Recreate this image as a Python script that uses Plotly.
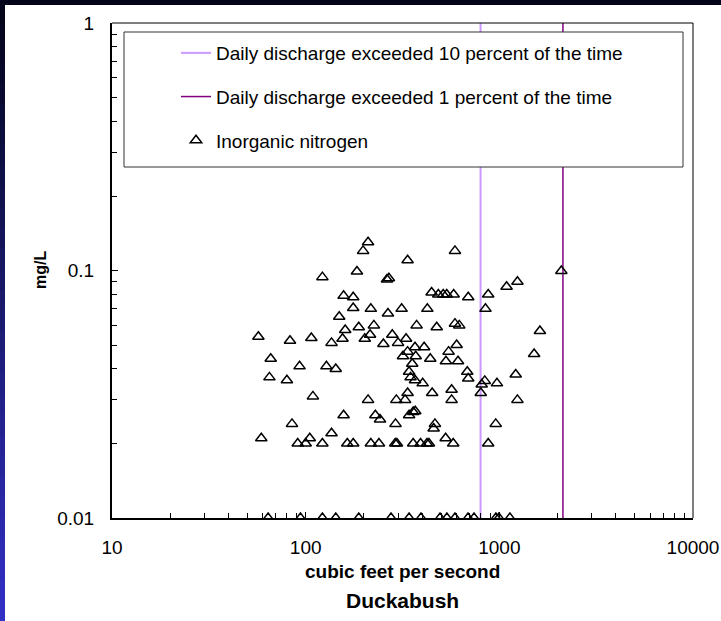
import plotly.graph_objects as go

# ---- data ----
flow_cfs = [210, 198, 122, 184, 263, 269, 157, 176, 176, 217, 266, 149, 160, 188, 225,
            57, 83, 107, 136, 155, 202, 215, 252, 280, 300, 66, 93, 128, 143, 65, 80, 109,
            210, 294, 157, 229, 242, 291, 85, 136, 59, 91, 100, 105, 122, 164, 176, 217,
            239, 290, 296,
            590, 336, 2090, 1090, 1240, 447, 484, 513, 535, 581, 691, 876, 313, 425, 848,
            374, 475, 590, 621, 1620, 330, 367, 409, 602, 318, 336, 370, 440, 530, 547,
            612, 1512, 355, 342, 348, 367, 402, 683, 691, 811, 841, 972, 1215, 336, 326,
            450, 567, 567, 802, 1240, 342, 359, 368, 465, 458, 958, 528, 578, 876, 359,
            392, 423, 433,
            64, 94, 122, 143, 188, 276, 342, 394, 494, 536, 590, 689, 740, 960, 995, 1134]
nitrogen_mgl = [0.130, 0.120, 0.094, 0.099, 0.092, 0.093, 0.079, 0.078, 0.0705, 0.070, 0.067,
                0.065, 0.0575, 0.059, 0.060, 0.054, 0.052, 0.0534, 0.051, 0.053, 0.053, 0.055,
                0.0505, 0.055, 0.051, 0.044, 0.041, 0.041, 0.040, 0.037, 0.036, 0.031, 0.030,
                0.030, 0.026, 0.026, 0.025, 0.024, 0.024, 0.022, 0.021, 0.02, 0.02, 0.021,
                0.02, 0.02, 0.02, 0.02, 0.02, 0.02, 0.02,
                0.120, 0.110, 0.0995, 0.086, 0.090, 0.0815, 0.080, 0.080, 0.080, 0.080, 0.078,
                0.080, 0.070, 0.070, 0.070, 0.060, 0.059, 0.061, 0.060, 0.057, 0.053, 0.049,
                0.049, 0.050, 0.045, 0.047, 0.045, 0.044, 0.043, 0.047, 0.043, 0.046, 0.042,
                0.039, 0.037, 0.036, 0.035, 0.039, 0.0366, 0.0346, 0.0358, 0.035, 0.038,
                0.032, 0.030, 0.032, 0.033, 0.030, 0.032, 0.030, 0.026, 0.0268, 0.027, 0.024,
                0.023, 0.024, 0.021, 0.02, 0.02, 0.02, 0.02, 0.02, 0.02,
                0.01, 0.01, 0.01, 0.01, 0.01, 0.01, 0.01, 0.01, 0.01, 0.01, 0.01, 0.01, 0.01,
                0.01, 0.01, 0.01]
q10_cfs = 800
q1_cfs = 2130
y_span = [0.01, 1]
x_tickvals = [10, 100, 1000, 10000]
x_ticktext = ["10", "100", "1000", "10000"]
y_tickvals = [0.01, 0.1, 1]
y_ticktext = ["0.01", "0.1", "1"]

FONT = "Arial, Liberation Sans, sans-serif"

fig = go.Figure()
fig.add_trace(go.Scatter(x=[q10_cfs, q10_cfs], y=y_span, mode="lines",
                         line=dict(color="#CC99FF", width=2),
                         name="Daily discharge exceeded 10 percent of the time",
                         legendgroup="a"))
fig.add_trace(go.Scatter(x=[q1_cfs, q1_cfs], y=y_span, mode="lines",
                         line=dict(color="#800080", width=1.5),
                         name="Daily discharge exceeded 1 percent of the time",
                         legendgroup="b"))
fig.add_trace(go.Scatter(x=flow_cfs, y=nitrogen_mgl, mode="markers",
                         marker=dict(symbol="triangle-up-open", size=10, color="black",
                                     line=dict(width=1.5, color="black")),
                         name="Inorganic nitrogen", legendgroup="c"))

# geometry helpers (pixel -> paper)
L, R, T, B = 112, 693, 23, 518
W, H = R - L, B - T
def px(x):
    return (x - L) / W
def py(y):
    return (B - y) / H

shapes = []
# legend box (white, drawn over the lines)
shapes.append(dict(type="rect", xref="paper", yref="paper", layer="above",
                   x0=px(124), x1=px(683), y0=py(167), y1=py(32),
                   fillcolor="white", line=dict(color="#333333", width=1)))
# top and right frame lines
shapes.append(dict(type="line", xref="paper", yref="paper", x0=0, x1=1, y0=1, y1=1,
                   line=dict(color="black", width=1)))
shapes.append(dict(type="line", xref="paper", yref="paper", x0=1, x1=1, y0=0, y1=1,
                   line=dict(color="black", width=1)))
# dark slide frame: top bar and gradient left strip
shapes.append(dict(type="rect", xref="paper", yref="paper", layer="below",
                   x0=px(0), x1=px(721), y0=py(5), y1=py(0),
                   fillcolor="#03031a", line=dict(width=0)))
n = 30
c0 = (4, 4, 26)
c1 = (50, 48, 196)
for i in range(n):
    f = i / (n - 1)
    col = "rgb(%d,%d,%d)" % tuple(int(c0[k] + (c1[k] - c0[k]) * f) for k in range(3))
    y_top = 621 * i / n
    y_bot = 621 * (i + 1) / n + 1
    shapes.append(dict(type="rect", xref="paper", yref="paper", layer="below",
                       x0=px(0), x1=px(5), y0=py(y_bot), y1=py(y_top),
                       fillcolor=col, line=dict(width=0)))

annotations = [
    dict(text="<b>cubic feet per second</b>", xref="paper", yref="paper",
         x=0.5, y=py(571), xanchor="center", yanchor="middle", showarrow=False,
         font=dict(family=FONT, size=19, color="black")),
    dict(text="<b>Duckabush</b>", xref="paper", yref="paper",
         x=0.5, y=py(600), xanchor="center", yanchor="middle", showarrow=False,
         font=dict(family=FONT, size=21, color="black")),
    dict(text="<b>mg/L</b>", xref="paper", yref="paper", textangle=-90,
         x=px(40), y=py(270), xanchor="center", yanchor="middle", showarrow=False,
         font=dict(family=FONT, size=16, color="black")),
]

fig.update_layout(
    width=721, height=621,
    margin=dict(l=L, r=721 - R, t=T, b=621 - B, autoexpand=False),
    paper_bgcolor="white", plot_bgcolor="white",
    font=dict(family=FONT, color="black"),
    showlegend=True,
    legend=dict(x=px(176), y=py(34), xanchor="left", yanchor="top",
                bgcolor="rgba(0,0,0,0)", borderwidth=0,
                font=dict(family=FONT, size=19, color="black"),
                traceorder="grouped", tracegroupgap=16),
    xaxis=dict(type="log", range=[1, 4], showline=True, linewidth=2, linecolor="black",
               mirror=False, ticks="inside", ticklen=6, tickwidth=1, tickcolor="black",
               tickvals=x_tickvals, ticktext=x_ticktext, showgrid=False, zeroline=False,
               tickfont=dict(family=FONT, size=19, color="black"), ticklabelstandoff=11,
               minor=dict(ticks="inside", ticklen=5, tickwidth=1, tickcolor="black",
                          dtick="D1", showgrid=False)),
    yaxis=dict(type="log", range=[-2, 0], showline=True, linewidth=2, linecolor="black",
               mirror=False, ticks="inside", ticklen=6, tickwidth=1, tickcolor="black",
               tickvals=y_tickvals, ticktext=y_ticktext, showgrid=False, zeroline=False,
               tickfont=dict(family=FONT, size=19, color="black"), ticklabelstandoff=12,
               minor=dict(ticks="inside", ticklen=5, tickwidth=1, tickcolor="black",
                          dtick="D1", showgrid=False)),
    shapes=shapes,
    annotations=annotations,
)

fig.write_html("out.html")
